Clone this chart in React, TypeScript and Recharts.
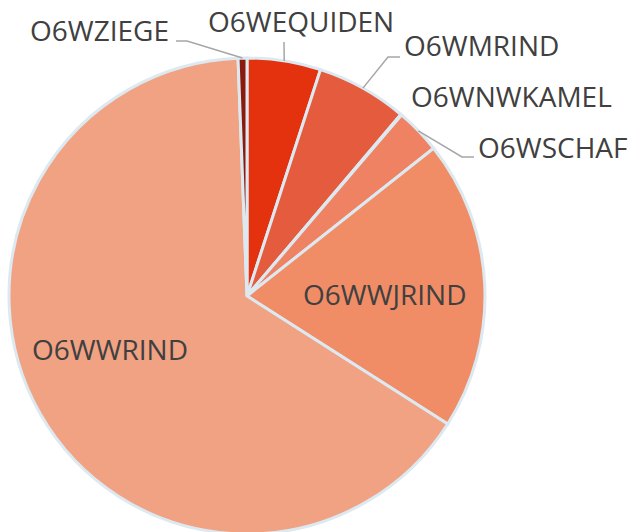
import React from "react";
import { PieChart, Pie, Cell } from "recharts";

// Anteile je Tierart (%)
const categories = [
  "O6WEQUIDEN",
  "O6WMRIND",
  "O6WNWKAMEL",
  "O6WSCHAF",
  "O6WWJRIND",
  "O6WWRIND",
  "O6WZIEGE",
];
const shares = [5.0, 6.2, 0.05, 3.1, 19.7, 65.4, 0.6];

const colors = [
  "#e4320f",
  "#e45b3d",
  "#ea6e4e",
  "#ee8262",
  "#f18d66",
  "#f0a283",
  "#8b1a0e",
];

const chartData = categories.map((name, i) => ({ name, value: shares[i] }));

// label placement (text start + optional leader elbow)
interface LabelPos {
  x: number;
  y: number;
  elbow?: [number, number];
  end?: [number, number];
}
const labelLayout: Record<string, LabelPos> = {
  O6WZIEGE: { x: 30, y: 41, elbow: [187, 41], end: [176, 41] },
  O6WEQUIDEN: { x: 208, y: 32, end: [284, 42] },
  O6WMRIND: { x: 404, y: 56, elbow: [388, 57], end: [400, 57] },
  O6WNWKAMEL: { x: 411, y: 107 },
  O6WSCHAF: { x: 478, y: 158, elbow: [462, 157], end: [474, 157] },
  O6WWJRIND: { x: 303, y: 305 },
  O6WWRIND: { x: 32, y: 360 },
};

const RAD = Math.PI / 180;

const renderLabel = (props: any) => {
  const { cx, cy, midAngle, outerRadius, index } = props;
  const name = categories[index];
  const pos = labelLayout[name];
  if (!pos) return null;
  const ax = cx + outerRadius * Math.cos(-midAngle * RAD);
  const ay = cy + outerRadius * Math.sin(-midAngle * RAD);
  let path = "";
  if (pos.end) {
    path = `M${ax},${ay}`;
    if (pos.elbow) path += ` L${pos.elbow[0]},${pos.elbow[1]}`;
    path += ` L${pos.end[0]},${pos.end[1]}`;
  }
  return (
    <g key={name}>
      {path && (
        <path d={path} stroke="#a6a6a6" strokeWidth={1.5} fill="none" />
      )}
      <text
        x={pos.x}
        y={pos.y}
        fill="#404040"
        fontSize={28}
        fontFamily="'Open Sans', sans-serif"
        textAnchor="start"
      >
        {name}
      </text>
    </g>
  );
};

const App: React.FC = () => {
  return (
    <div
      style={{
        position: "fixed",
        left: 0,
        top: 0,
        width: 631,
        height: 532,
        background: "#ffffff",
      }}
    >
      <PieChart
        width={631}
        height={532}
        margin={{ top: 0, right: 0, bottom: 0, left: 0 }}
      >
        <Pie
          data={chartData}
          dataKey="value"
          nameKey="name"
          cx={247}
          cy={296}
          outerRadius={238}
          startAngle={90}
          endAngle={-270}
          stroke="#dce9f1"
          strokeWidth={3}
          label={renderLabel}
          labelLine={false}
          isAnimationActive={false}
        >
          {chartData.map((d, i) => (
            <Cell key={d.name} fill={colors[i]} />
          ))}
        </Pie>
      </PieChart>
    </div>
  );
};

export default App;
